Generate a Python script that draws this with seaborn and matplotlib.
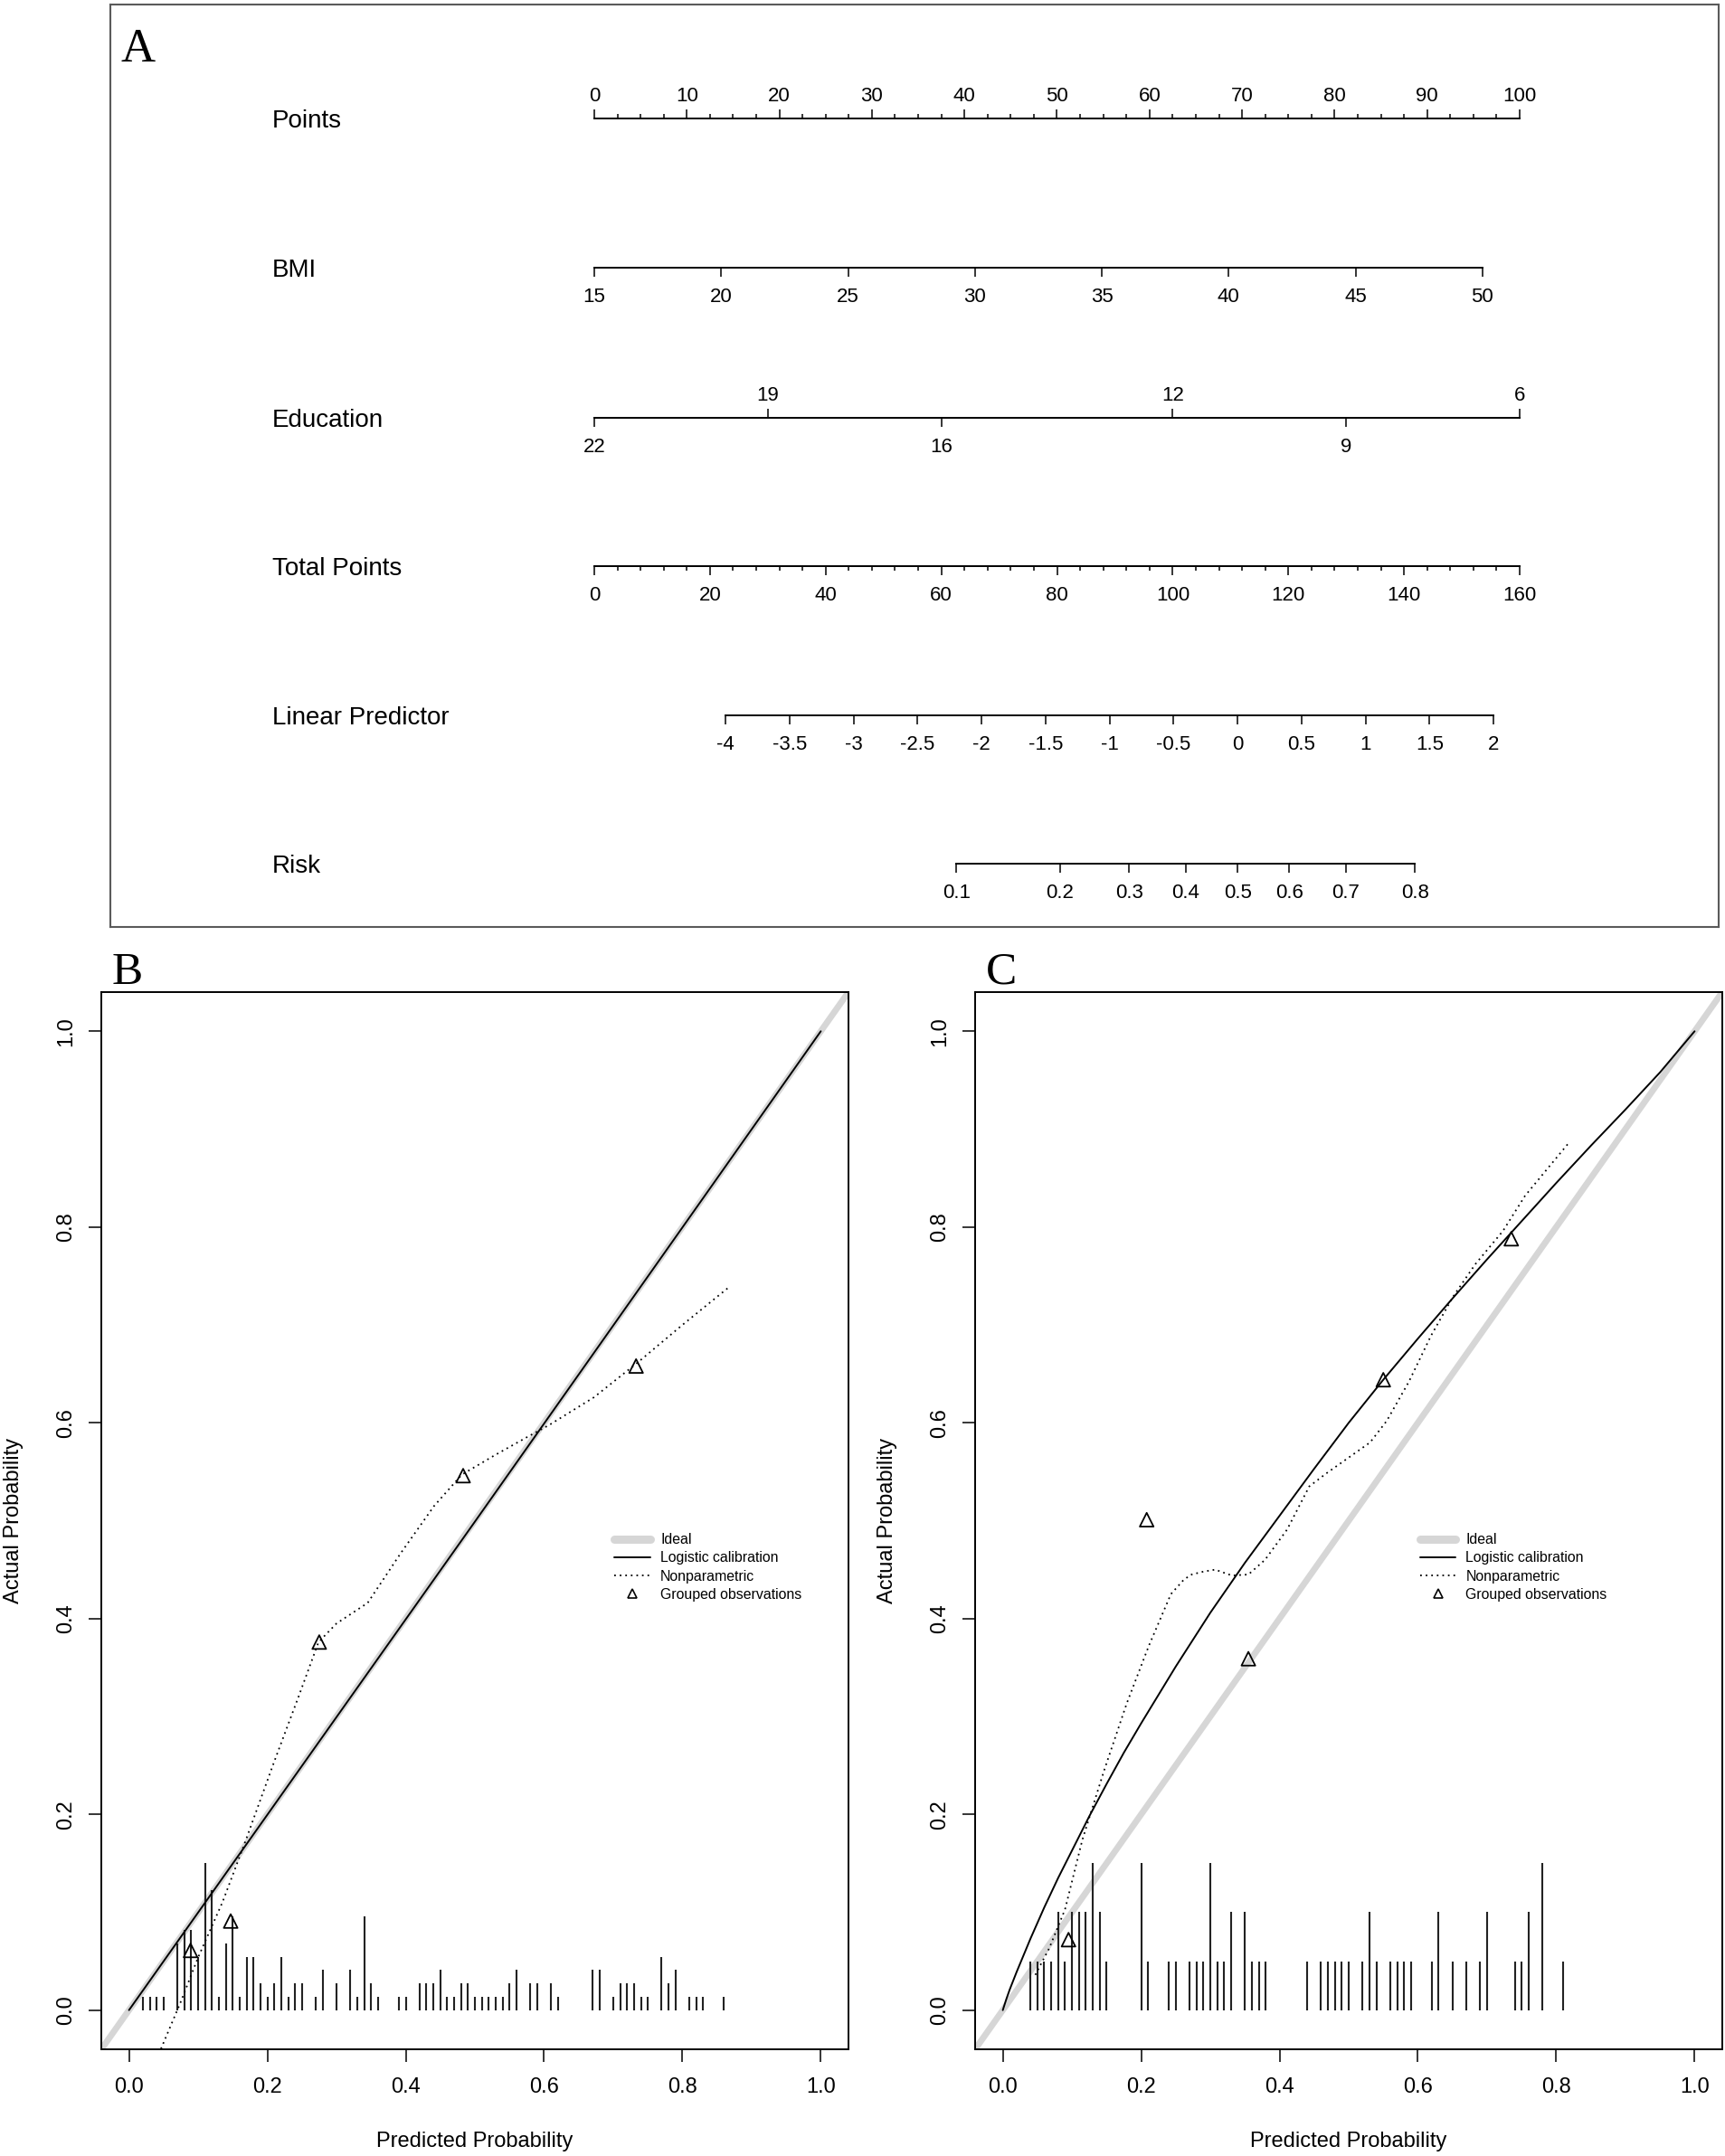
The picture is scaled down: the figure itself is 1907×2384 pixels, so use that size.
import numpy as np
import matplotlib
matplotlib.use('Agg')
import matplotlib.pyplot as plt
import seaborn as sns
from matplotlib.lines import Line2D
from matplotlib.ticker import FixedLocator, NullLocator

# ---- nomogram (panel A) ----
row_names = ['Points', 'BMI', 'Education', 'Total Points', 'Linear Predictor', 'Risk']
points_ticks = [0, 10, 20, 30, 40, 50, 60, 70, 80, 90, 100]
bmi_ticks = [15, 20, 25, 30, 35, 40, 45, 50]
bmi_range = (15, 51.47)          # BMI worth 0 and 100 points
edu_top = [19, 12, 6]
edu_bottom = [22, 16, 9]
edu_range = (22, 6)              # education worth 0 and 100 points
total_ticks = [0, 20, 40, 60, 80, 100, 120, 140, 160]
lp_ticks = [-4, -3.5, -3, -2.5, -2, -1.5, -1, -0.5, 0, 0.5, 1, 1.5, 2]
lp_labels = ['-4', '-3.5', '-3', '-2.5', '-2', '-1.5', '-1', '-0.5', '0', '0.5', '1', '1.5', '2']
lp_range = (-5.025, 2.204)       # linear predictor at 0 and 160 total points
risk_ticks = [0.1, 0.2, 0.3, 0.4, 0.5, 0.6, 0.7, 0.8]

# ---- calibration (panels B and C) ----
ideal_x = [0, 1]
ideal_y = [0, 1]

b_rug_x = [0.02, 0.03, 0.04, 0.05, 0.07, 0.08, 0.09, 0.10, 0.11, 0.12, 0.13, 0.14, 0.15,
           0.16, 0.17, 0.18, 0.19, 0.20, 0.21, 0.22, 0.23, 0.24, 0.25, 0.27, 0.28, 0.30,
           0.32, 0.33, 0.34, 0.35, 0.36, 0.39, 0.40, 0.42, 0.43, 0.44, 0.45, 0.46, 0.47,
           0.48, 0.49, 0.50, 0.51, 0.52, 0.53, 0.54, 0.55, 0.56, 0.58, 0.59, 0.61, 0.62,
           0.67, 0.68, 0.70, 0.71, 0.72, 0.73, 0.74, 0.75, 0.77, 0.78, 0.79, 0.81, 0.82,
           0.83, 0.86]
b_rug_n = [1, 1, 1, 1, 5, 6, 6, 4, 11, 9, 1, 5, 7, 1, 4, 4, 2, 1, 2, 4, 1, 2, 2, 1, 3, 2,
           3, 1, 7, 2, 1, 1, 1, 2, 2, 2, 3, 1, 1, 2, 2, 1, 1, 1, 1, 1, 2, 3, 2, 2, 2, 1,
           3, 3, 1, 2, 2, 2, 1, 1, 4, 2, 3, 1, 1, 1, 1]
b_logit_x = [0.0, 0.5, 1.0]
b_logit_y = [0.0, 0.499, 1.0]
b_np_x = [0.04, 0.074, 0.10, 0.135, 0.167, 0.21, 0.245, 0.274, 0.30, 0.345, 0.393, 0.441,
          0.481, 0.529, 0.577, 0.608, 0.672, 0.736, 0.80, 0.868]
b_np_y = [-0.05, 0.007, 0.054, 0.11, 0.17, 0.254, 0.32, 0.376, 0.395, 0.416, 0.467, 0.515,
          0.547, 0.567, 0.586, 0.598, 0.626, 0.662, 0.70, 0.739]
b_grp_x = [0.089, 0.147, 0.275, 0.483, 0.733]
b_grp_y = [0.061, 0.091, 0.376, 0.546, 0.658]

c_rug_x = [0.04, 0.05, 0.06, 0.07, 0.08, 0.09, 0.10, 0.11, 0.12, 0.13, 0.14, 0.15, 0.20,
           0.21, 0.24, 0.25, 0.27, 0.28, 0.29, 0.30, 0.31, 0.32, 0.33, 0.35, 0.36, 0.37,
           0.38, 0.44, 0.46, 0.47, 0.48, 0.49, 0.50, 0.52, 0.53, 0.54, 0.56, 0.57, 0.58,
           0.59, 0.62, 0.63, 0.65, 0.67, 0.69, 0.70, 0.74, 0.75, 0.76, 0.78, 0.81]
c_rug_n = [1, 1, 1, 1, 2, 1, 2, 2, 2, 3, 2, 1, 3, 1, 1, 1, 1, 1, 1, 3, 1, 1, 2, 2, 1, 1,
           1, 1, 1, 1, 1, 1, 1, 1, 2, 1, 1, 1, 1, 1, 1, 2, 1, 1, 1, 2, 1, 1, 2, 3, 1]
c_logit_x = [0.0, 0.005, 0.01, 0.02, 0.03, 0.04, 0.06, 0.08, 0.10, 0.125, 0.15, 0.175, 0.20,
             0.25, 0.30, 0.35, 0.40, 0.45, 0.50, 0.55, 0.60, 0.65, 0.70, 0.75, 0.80,
             0.85, 0.90, 0.95, 1.0]
c_logit_y = [0.0, 0.011, 0.021, 0.039, 0.056, 0.073, 0.105, 0.135, 0.163, 0.198, 0.231,
             0.263, 0.293, 0.351, 0.406, 0.457, 0.505, 0.553, 0.600, 0.644, 0.686, 0.727,
             0.767, 0.806, 0.845, 0.883, 0.920, 0.958, 1.0]
c_np_x = [0.047, 0.067, 0.09, 0.115, 0.147, 0.179, 0.211, 0.243, 0.262, 0.273, 0.29, 0.307,
          0.331, 0.355, 0.379, 0.411, 0.443, 0.467, 0.499, 0.531, 0.555, 0.587, 0.619,
          0.651, 0.683, 0.723, 0.755, 0.817]
c_np_y = [0.036, 0.063, 0.103, 0.174, 0.246, 0.313, 0.372, 0.425, 0.44, 0.445, 0.448, 0.45,
          0.444, 0.445, 0.46, 0.491, 0.535, 0.548, 0.564, 0.58, 0.602, 0.642, 0.689,
          0.729, 0.762, 0.796, 0.832, 0.885]
c_grp_x = [0.095, 0.208, 0.355, 0.55, 0.735]
c_grp_y = [0.072, 0.501, 0.359, 0.644, 0.788]

legend_labels = ['Ideal', 'Logistic calibration', 'Nonparametric', 'Grouped observations']

sns.set_theme(style='ticks')
plt.rcParams['font.family'] = ['Liberation Sans', 'DejaVu Sans']
plt.rcParams.update({'text.color': 'black', 'axes.labelcolor': 'black',
                     'axes.edgecolor': 'black', 'xtick.color': 'black',
                     'ytick.color': 'black'})

W, H = 1908, 2384
fig = plt.figure(figsize=(W / 100, H / 100), dpi=100)


def fx(px):
    return px / W


def fy(py):
    return 1 - py / H


IDEAL_GREY = '#d6d6d6'
SERIF = ['Liberation Serif', 'DejaVu Serif']

# panel A frame
frame = fig.add_axes([fx(122), fy(1025), fx(1900) - fx(122), (1025 - 5) / H])
frame.set_xticks([]); frame.set_yticks([])
for s in frame.spines.values():
    s.set_color('#5a5a5a'); s.set_linewidth(1.5)
fig.text(fx(134), fy(68), 'A', family=SERIF, fontsize=38, va='baseline')

row_y = [131, 296, 462, 626, 791, 955]
X0, X1 = 657, 1680


def scale_row(y, lim, ticks, labels=None, side='bottom', minor=None, bounds=None,
              logit=False):
    ax = fig.add_axes([fx(X0), fy(y), fx(X1) - fx(X0), 0.0001])
    ax.patch.set_visible(False)
    if logit:
        ax.set_xscale('logit')
    ax.set_xlim(lim)
    for s in ('left', 'right', 'top', 'bottom'):
        ax.spines[s].set_visible(s == side)
    ax.spines[side].set_linewidth(1.4)
    if bounds is not None:
        ax.spines[side].set_bounds(*bounds)
    ax.set_yticks([])
    ax.xaxis.set_ticks_position(side)
    if labels is None:
        labels = [str(t) for t in ticks]
    ax.set_xticks(ticks, labels)
    ax.xaxis.set_minor_locator(FixedLocator(minor) if minor is not None else NullLocator())
    top = side == 'top'
    ax.tick_params(axis='x', which='major', direction='out', length=7, width=1.1,
                   pad=3 if top else 9, labelsize=16, top=top, labeltop=top,
                   bottom=not top, labelbottom=not top)
    ax.tick_params(axis='x', which='minor', direction='out', length=3.8, width=1.1,
                   top=top, bottom=not top)
    return ax


scale_row(row_y[0], (0, 100), points_ticks, side='top',
          minor=np.arange(0, 100.1, 2.5))
scale_row(row_y[1], bmi_range, bmi_ticks, bounds=(bmi_ticks[0], bmi_ticks[-1]))
scale_row(row_y[2], edu_range, edu_top, side='top')
scale_row(row_y[2], edu_range, edu_bottom)
scale_row(row_y[3], (0, 160), total_ticks, minor=np.arange(0, 160.1, 4))
scale_row(row_y[4], lp_range, lp_ticks, lp_labels, bounds=(lp_ticks[0], lp_ticks[-1]))
risk_lim = tuple(1 / (1 + np.exp(-np.array(lp_range))))
scale_row(row_y[5], risk_lim, risk_ticks, [f'{r:.1f}' for r in risk_ticks],
          bounds=(risk_ticks[0], risk_ticks[-1]), logit=True)

for name, y in zip(row_names, row_y):
    fig.text(fx(301), fy(y + 3), name, fontsize=20, va='center')


# panels B and C
def calib_panel(left, letter, rug_x, rug_n, lg_x, lg_y, np_x, np_y, grp_x, grp_y, leg_x):
    right = left + 826
    ax = fig.add_axes([fx(left), fy(2266), fx(right) - fx(left), (2266 - 1097) / H])
    ax.set_xlim(-0.04, 1.04)
    ax.set_ylim(-0.04, 1.04)
    ax.axline((ideal_x[0], ideal_y[0]), (ideal_x[1], ideal_y[1]), color=IDEAL_GREY,
              lw=5.0, solid_capstyle='butt', zorder=1)
    heights = 0.15 * np.array(rug_n) / max(rug_n)
    ax.vlines(rug_x, 0, heights, color='#222222', lw=1.5, zorder=2)
    sns.lineplot(x=lg_x, y=lg_y, ax=ax, color='black', lw=1.4, estimator=None,
                 sort=False, zorder=3)
    sns.lineplot(x=np_x, y=np_y, ax=ax, color='black', lw=1.3, linestyle=(0, (1, 2.4)),
                 estimator=None, sort=False, zorder=3)
    sns.scatterplot(x=grp_x, y=grp_y, ax=ax, marker='^', s=120, facecolor='none',
                    edgecolor='black', linewidth=1.3, zorder=4)
    ticks = [0.0, 0.2, 0.4, 0.6, 0.8, 1.0]
    ax.set_xticks(ticks)
    ax.set_yticks(ticks)
    ax.set_xticklabels([f'{t:.1f}' for t in ticks])
    ax.set_yticklabels([f'{t:.1f}' for t in ticks], rotation=90, va='center')
    ax.tick_params(axis='x', length=10, width=1.1, pad=12, labelsize=17)
    ax.tick_params(axis='y', length=10, width=1.1, pad=10, labelsize=17)
    for s in ax.spines.values():
        s.set_linewidth(1.4)
        s.set_visible(True)
    ax.set_xlabel('Predicted Probability', fontsize=17)
    ax.set_ylabel('Actual Probability', fontsize=17)
    ax.xaxis.set_label_coords(0.5, -(2368 - 2266) / 1169)
    ax.xaxis.label.set_va('center')
    ax.yaxis.set_label_coords(-97 / 826, 0.5)
    ax.yaxis.label.set_va('center')

    handles = [Line2D([], [], color=IDEAL_GREY, lw=6.5, solid_capstyle='round'),
               Line2D([], [], color='black', lw=1.4),
               Line2D([], [], color='black', lw=1.3, ls=(0, (1, 2.4))),
               Line2D([], [], color='black', ls='none', marker='^', mfc='none',
                      mec='black', mew=1.2, ms=7)]
    ax.legend(handles, legend_labels, loc='center left', bbox_to_anchor=(leg_x, 0.4524),
              bbox_transform=ax.transData, frameon=False, fontsize=11.4,
              handlelength=2.5, handletextpad=0.7, labelspacing=0.32, borderpad=0,
              borderaxespad=0)
    fig.text(fx(left + 12), fy(1088), letter, family=SERIF, fontsize=37, va='baseline')
    return ax


calib_panel(112, 'B', b_rug_x, b_rug_n, b_logit_x, b_logit_y, b_np_x, b_np_y,
            b_grp_x, b_grp_y, 0.702)
calib_panel(1078, 'C', c_rug_x, c_rug_n, c_logit_x, c_logit_y, c_np_x, c_np_y,
            c_grp_x, c_grp_y, 0.603)

fig.savefig('out.png', dpi=100)
